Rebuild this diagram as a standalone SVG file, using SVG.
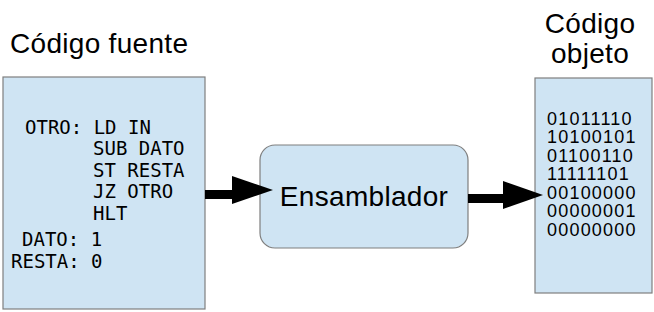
<svg xmlns="http://www.w3.org/2000/svg" width="654" height="312" viewBox="0 0 654 312">
  <style>
    .box { fill: #cfe4f3; stroke: #7f7f7f; stroke-width: 1.2; }
    .title { font-family: "Liberation Sans", Arial, sans-serif; font-size: 28px; fill: #000; letter-spacing: 0.3px; }
    .code { font-family: "DejaVu Sans Mono", monospace; font-size: 19px; fill: #000; }
    .bin { font-family: "Liberation Sans", Arial, sans-serif; font-size: 18px; fill: #000; letter-spacing: 1.2px; }
    .arrow { fill: #000; }
  </style>

  <!-- source program -->
  <g id="fuente">
    <text class="title" x="10" y="53">Código fuente</text>
    <rect class="box" x="3" y="77" width="202" height="232"/>
    <text class="code" x="25" y="133.5">OTRO: LD IN</text>
    <text class="code" x="93" y="155">SUB DATO</text>
    <text class="code" x="93" y="176.5">ST RESTA</text>
    <text class="code" x="93" y="198">JZ OTRO</text>
    <text class="code" x="93" y="219.5">HLT</text>
    <text class="code" x="22" y="245.5">DATO: 1</text>
    <text class="code" x="11" y="267.5">RESTA: 0</text>
  </g>

  <!-- assembler -->
  <g id="ensamblador">
    <rect class="box" x="260" y="145" width="208" height="103" rx="15" ry="15"/>
    <text class="title" x="364" y="206" text-anchor="middle">Ensamblador</text>
  </g>

  <!-- object code -->
  <g id="objeto">
    <text class="title" x="590" y="33" text-anchor="middle">Código</text>
    <text class="title" x="590" y="63" text-anchor="middle">objeto</text>
    <rect class="box" x="535" y="78" width="117" height="215"/>
    <text class="bin" x="547" y="124.5">01011110</text>
    <text class="bin" x="547" y="143">10100101</text>
    <text class="bin" x="547" y="161.5">01100110</text>
    <text class="bin" x="547" y="180">11111101</text>
    <text class="bin" x="547" y="198.5">00100000</text>
    <text class="bin" x="547" y="217">00000001</text>
    <text class="bin" x="547" y="235.5">00000000</text>
  </g>

  <!-- connectors -->
  <g id="connectors">
    <rect class="arrow" x="205" y="190" width="28" height="9"/>
    <polygon class="arrow" points="232,176 273,190 232,204"/>
    <rect class="arrow" x="468" y="194" width="36" height="9"/>
    <polygon class="arrow" points="503,181 543,195 503,209"/>
  </g>
</svg>
